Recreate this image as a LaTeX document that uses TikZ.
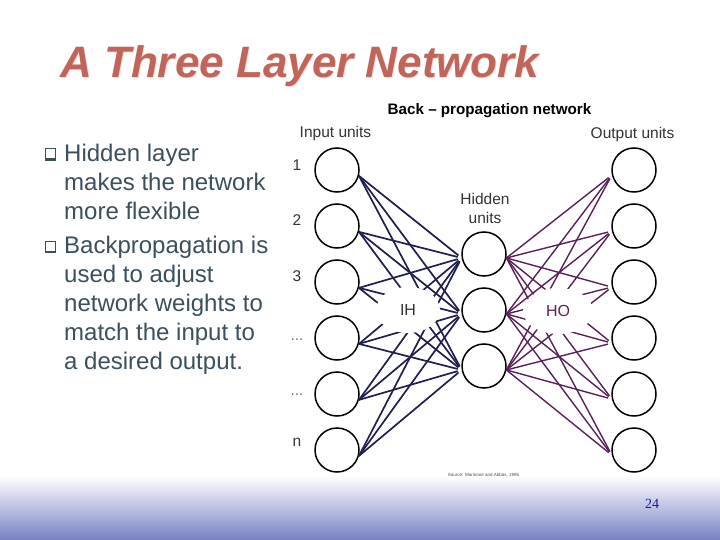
\documentclass[tikz,border=0pt]{standalone}
\usepackage{fontspec}
\setmainfont{Liberation Sans}
\newfontfamily\serifnum{Liberation Serif}
\usetikzlibrary{shapes.geometric}
\definecolor{titlered}{HTML}{C0655A}
\definecolor{titleshade}{HTML}{F3DDD8}
\definecolor{bodyslate}{HTML}{3B4F5C}
\definecolor{inwire}{HTML}{1F2050}
\definecolor{outwire}{HTML}{5A2058}
\definecolor{footblue}{HTML}{7780C4}
\definecolor{pagenum}{HTML}{1A1A8C}
\tikzset{
	unit/.style={shape=circle, draw, line width=1.5pt, inner sep=0, minimum size=44pt},
	inedge/.style={draw=inwire, line width=1.7pt, shorten >=4pt},
	outedge/.style={draw=outwire, line width=1.4pt, shorten >=4pt},
	gap/.style={shape=ellipse, fill=white, inner sep=0},
	netlabel/.style={inner sep=0, text=black!80, font=\fontsize{15.5}{17}\selectfont},
	bodytext/.style={anchor=north west, inner sep=0, align=left, text=bodyslate, font=\fontsize{24}{29}\selectfont},
	tickbox/.style={shape=rectangle, draw=bodyslate, line width=1pt, fill=white, inner sep=0, minimum size=10pt}
}
\begin{document}
\begin{tikzpicture}[x=1pt, y=-1pt]
	\useasboundingbox (0, 0) rectangle (720, 540);
	\shade[top color=white, bottom color=footblue] (0, 476) rectangle (720, 540);
	% title
	\node[inner sep=0, anchor=base west, text=titleshade, font=\fontsize{44}{44}\selectfont\bfseries\itshape] (titleback) at (61, 79) {A Three Layer Network};
	\node[inner sep=0, anchor=base west, text=titlered, font=\fontsize{44}{44}\selectfont\bfseries\itshape] (title) at (60, 78) {A Three Layer Network};
	% text on the left
	\node[tickbox] (tick1) at (50.5, 154) {};
	\draw[bodyslate, line width=2.2pt] (tick1.south west) -- (tick1.south east);
	\node[bodytext] (hiddentext) at (64, 144) {Hidden layer\\makes the network\\more flexible};
	\node[tickbox] (tick2) at (50.5, 246.5) {};
	\draw[bodyslate, line width=2.2pt] (tick2.south west) -- (tick2.south east);
	\node[bodytext] (backproptext) at (64, 236) {Backpropagation is\\used to adjust\\network weights to\\match the input to\\a desired output.};
	% units
	\node[unit] (in1) at (337, 170) {};
	\node[unit] (in2) at (337, 226) {};
	\node[unit] (in3) at (337, 282) {};
	\node[unit] (in4) at (337, 338) {};
	\node[unit] (in5) at (337, 394) {};
	\node[unit] (in6) at (337, 450) {};
	\node[unit] (hid1) at (484, 254) {};
	\node[unit] (hid2) at (484, 310) {};
	\node[unit] (hid3) at (484, 366) {};
	\node[unit] (out1) at (634, 170) {};
	\node[unit] (out2) at (634, 226) {};
	\node[unit] (out3) at (634, 282) {};
	\node[unit] (out4) at (634, 338) {};
	\node[unit] (out5) at (634, 394) {};
	\node[unit] (out6) at (634, 450) {};
	% wires
	\foreach \i in {1,...,6} {
		\foreach \j in {1,2,3} {
			\draw[inedge] (in\i.-15) -- (hid\j.190);
			\draw[outedge] (hid\j.-10) -- (out\i.193);
		}
	}
	\node[gap, minimum width=64pt, minimum height=46pt] (gapih) at (408, 310) {};
	\node[gap, minimum width=70pt, minimum height=46pt] (gapho) at (558, 311) {};
	% labels
	\node[inner sep=0, font=\fontsize{15.2}{17}\selectfont\bfseries] (heading) at (489.5, 110.5) {Back -- propagation network};
	\node[netlabel] (inputs) at (335.5, 133.5) {Input units};
	\node[netlabel] (outputs) at (632.5, 134.5) {Output units};
	\node[netlabel, align=center, font=\fontsize{15.5}{19}\selectfont] (hidden) at (485, 208.5) {Hidden\\units};
	\node[netlabel] (num1) at (297, 165) {1};
	\node[netlabel] (num2) at (297, 220) {2};
	\node[netlabel] (num3) at (297, 276) {3};
	\node[netlabel, text=black!55] (num4) at (297, 340) {...};
	\node[netlabel, text=black!55] (num5) at (297, 395) {...};
	\node[netlabel] (num6) at (297, 442) {n};
	\node[netlabel, font=\fontsize{16}{17}\selectfont] (ih) at (408, 310) {IH};
	\node[netlabel, text=outwire, font=\fontsize{16}{17}\selectfont] (ho) at (558, 311) {HO};
	\node[inner sep=0, text=black!70, font=\fontsize{4.5}{5}\selectfont] (source) at (483.5, 475) {Source: Marinone and Abbas, 1995};
	\node[inner sep=0, text=pagenum, font=\fontsize{14}{16}\selectfont\serifnum] (page) at (652, 504) {24};
\end{tikzpicture}
\end{document}
